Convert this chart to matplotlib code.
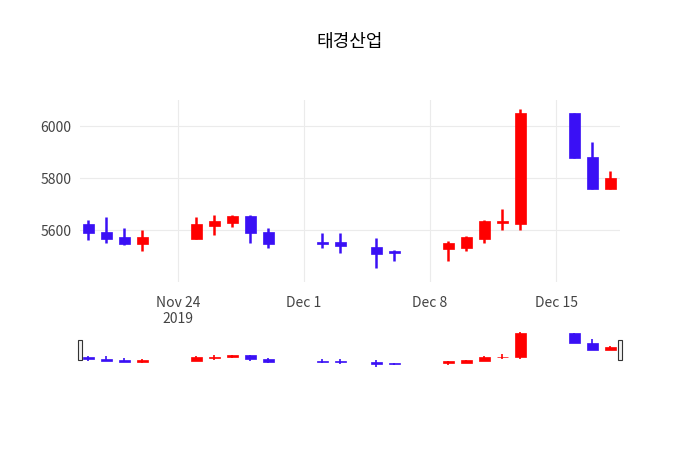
import datetime as dt
import matplotlib
matplotlib.use("Agg")
import matplotlib.pyplot as plt
import matplotlib.dates as mdates
from matplotlib.patches import Rectangle

plt.rcParams["font.family"] = ["Noto Sans CJK JP", "Noto Sans CJK KR", "Noto Sans CJK SC", "DejaVu Sans"]

dates = ["2019-11-19", "2019-11-20", "2019-11-21", "2019-11-22", "2019-11-25",
         "2019-11-26", "2019-11-27", "2019-11-28", "2019-11-29", "2019-12-02",
         "2019-12-03", "2019-12-05", "2019-12-06", "2019-12-09", "2019-12-10",
         "2019-12-11", "2019-12-12", "2019-12-13", "2019-12-16", "2019-12-17",
         "2019-12-18"]
opens = [5623, 5592, 5573, 5546, 5565, 5615, 5627, 5654, 5592, 5554,
         5554, 5535, 5519, 5527, 5531, 5565, 5627, 5623, 6050, 5881, 5758]
highs = [5638, 5650, 5608, 5600, 5650, 5658, 5658, 5658, 5608, 5588,
         5588, 5569, 5523, 5558, 5577, 5638, 5681, 6065, 6050, 5938, 5827]
lows = [5562, 5550, 5542, 5519, 5565, 5581, 5612, 5550, 5531, 5531,
        5512, 5454, 5481, 5481, 5519, 5550, 5600, 5600, 5877, 5758, 5758]
closes = [5588, 5565, 5546, 5573, 5623, 5635, 5654, 5588, 5546, 5546,
          5538, 5508, 5512, 5550, 5573, 5635, 5635, 6050, 5877, 5758, 5800]

UP = "#ff0000"
DOWN = "#3a10f5"

x = [mdates.date2num(dt.datetime.strptime(d, "%Y-%m-%d")) for d in dates]


def draw_candles(ax, width=0.62, lw=1.8):
    for xi, o, h, l, c in zip(x, opens, highs, lows, closes):
        col = UP if c > o else DOWN
        ax.plot([xi, xi], [l, h], color=col, lw=lw, solid_capstyle="butt", zorder=2)
        lo, hi = min(o, c), max(o, c)
        ax.add_patch(Rectangle((xi - width / 2, lo), width, max(hi - lo, 3),
                               facecolor=col, edgecolor=col, lw=0.5, zorder=3))


fig = plt.figure(figsize=(7, 4.5), dpi=100)
fig.text(0.5, 1 - 42 / 450, "태경산업", ha="center", va="center", fontsize=13)

xmin, xmax = x[0] - 0.45, x[-1] + 0.55

ax = fig.add_axes([80 / 700, (450 - 282) / 450, 540 / 700, 182 / 450])
draw_candles(ax)
ax.set_xlim(xmin, xmax)
ax.set_ylim(5400, 6100)
ax.set_yticks([5600, 5800, 6000])
ticks = [mdates.date2num(dt.datetime(2019, m, d)) for m, d in [(11, 24), (12, 1), (12, 8), (12, 15)]]
ax.set_xticks(ticks)
ax.set_xticklabels(["Nov 24\n2019", "Dec 1", "Dec 8", "Dec 15"])
ax.grid(True, color="#ebebeb", lw=0.8)
ax.set_axisbelow(True)
for s in ax.spines.values():
    s.set_visible(False)
ax.tick_params(length=0, labelsize=10, colors="#444444", pad=6)
ax.tick_params(axis="x", pad=10)

# range slider
sl = fig.add_axes([80 / 700, (450 - 370) / 450, 540 / 700, 40 / 450])
draw_candles(sl, lw=1.2)
sl.set_xlim(xmin, xmax)
sl.set_ylim(5400, 6100)
sl.set_xticks([])
sl.set_yticks([])
for s in sl.spines.values():
    s.set_visible(False)
for hx in (xmin, xmax):
    sl.add_patch(Rectangle((hx - 0.12, 5580), 0.24, 350, facecolor="#f2f2f2",
                           edgecolor="#333333", lw=0.8, clip_on=False, zorder=5))

fig.savefig("out.png", dpi=100)
